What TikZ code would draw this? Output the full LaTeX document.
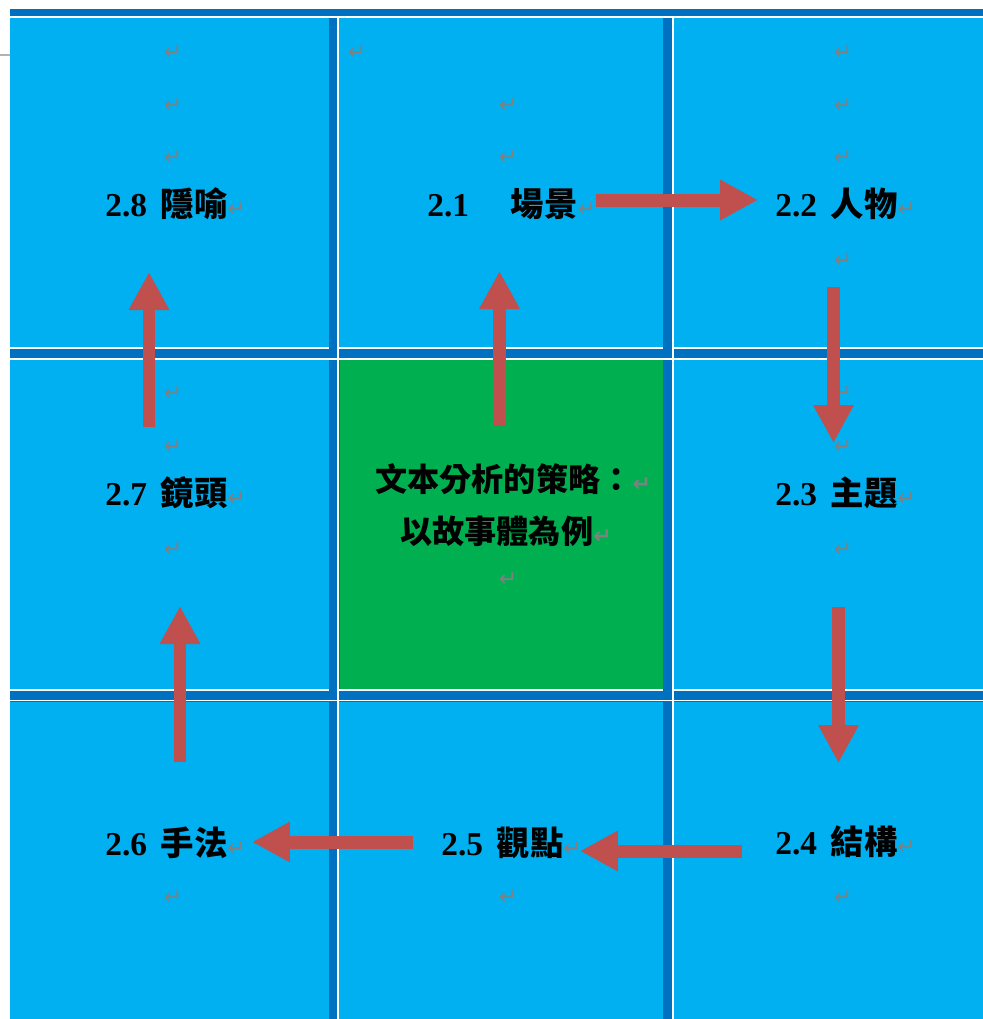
\documentclass[tikz,border=0pt]{standalone}
\usepackage{fontspec}
\setmainfont{Liberation Serif}
\newfontfamily\cjk{Noto Sans CJK TC}
\newfontfamily\dejavu{DejaVu Sans}
\usepackage{tikz}
\usetikzlibrary{arrows.meta}
\definecolor{bandblue}{HTML}{0070C0}
\definecolor{cellblue}{HTML}{00B0F0}
\definecolor{centregreen}{HTML}{00B050}
\definecolor{arrowred}{HTML}{C0504D}
\definecolor{retgray}{HTML}{808080}
\newcommand{\ret}{{\dejavu\fontsize{12.5}{12.5}\selectfont\textcolor{retgray}{↵}}}
\newcommand{\topictext}[2]{\textbf{#1} \hspace{3pt}{\cjk\bfseries #2}\ret}
\tikzset{
    rule/.style={draw=white, line width=0.9pt},
    topic/.style={anchor=base west, inner sep=0pt, font=\fontsize{19}{23}\selectfont},
    centretext/.style={anchor=base west, inner sep=0pt, font=\cjk\bfseries\fontsize{18.3}{22}\selectfont},
    retsign/.style={inner sep=0pt},
    flow/.style={draw=arrowred, line width=0.26cm, -{Triangle[length=0.76cm,width=0.76cm]}}}

\begin{document}
\begin{tikzpicture}[x=0.02cm,y=-0.02cm]
\useasboundingbox (0,0) rectangle (983,1019);
% table
\fill[bandblue] (10,9) rectangle (983,1019);
\fill[cellblue] (10,18) rectangle (329,348);
\fill[cellblue] (339,18) rectangle (663,348);
\fill[cellblue] (674,18) rectangle (983,348);
\fill[cellblue] (10,360) rectangle (329,690);
\fill[centregreen] (340,360) rectangle (663,690);
\fill[cellblue] (674,360) rectangle (983,690);
\fill[cellblue] (10,702) rectangle (329,1019);
\fill[cellblue] (339,702) rectangle (663,1019);
\fill[cellblue] (674,702) rectangle (983,1019);
\draw[rule] (10,17) -- (983,17);
\draw[rule] (10,348) -- (329,348) (338,348) -- (663,348) (673,348) -- (983,348);
\draw[rule] (10,359) -- (983,359);
\draw[rule] (10,690) -- (329,690) (338,690) -- (663,690) (673,690) -- (983,690);
\draw[rule] (10,700.5) -- (983,700.5);
\draw[rule] (338,17) -- (338,1019);
\draw[rule] (673,17) -- (673,1019);
\draw[gray!60, line width=0.6pt] (0,55) -- (10,55);
% topics
\node[topic] (t8) at (105,216) {\topictext{2.8}{隱喻}};
\node[topic] (t1) at (427,216) {\textbf{2.1} {\cjk\bfseries 　場景}\ret};
\node[topic] (t2) at (775,216) {\topictext{2.2}{人物}};
\node[topic] (t7) at (105,505) {\topictext{2.7}{鏡頭}};
\node[topic] (t3) at (775,505) {\topictext{2.3}{主題}};
\node[topic] (t6) at (105,855) {\topictext{2.6}{手法}};
\node[topic] (t5) at (441,855) {\topictext{2.5}{觀點}};
\node[topic] (t4) at (775,854) {\topictext{2.4}{結構}};
\node[centretext] (c1) at (375,491) {文本分析的策略：\ret};
\node[centretext] (c2) at (400,543) {以故事體為例\ret};
% paragraph marks
\node[retsign] (r1) at (173,53) {\ret};
\node[retsign] (r2) at (173,106) {\ret};
\node[retsign] (r3) at (173,158) {\ret};
\node[retsign] (r4) at (173,394) {\ret};
\node[retsign] (r5) at (173,447) {\ret};
\node[retsign] (r6) at (173,550) {\ret};
\node[retsign] (r7) at (173,898) {\ret};
\node[retsign] (r8) at (357,53) {\ret};
\node[retsign] (r9) at (508,106) {\ret};
\node[retsign] (r10) at (508,158) {\ret};
\node[retsign] (r11) at (508,580) {\ret};
\node[retsign] (r12) at (508,898) {\ret};
\node[retsign] (r13) at (843,53) {\ret};
\node[retsign] (r14) at (843,106) {\ret};
\node[retsign] (r15) at (843,158) {\ret};
\node[retsign] (r16) at (843,261) {\ret};
\node[retsign] (r17) at (843,393) {\ret};
\node[retsign] (r18) at (843,447) {\ret};
\node[retsign] (r19) at (843,550) {\ret};
\node[retsign] (r20) at (843,898) {\ret};
% arrows
\coordinate (a12) at (596,200);   \coordinate (b12) at (758,200);
\coordinate (a23) at (833.5,287); \coordinate (b23) at (833.5,443);
\coordinate (a34) at (838.5,607); \coordinate (b34) at (838.5,763);
\coordinate (a45) at (742,851);   \coordinate (b45) at (580,851);
\coordinate (a56) at (413,842);   \coordinate (b56) at (252,842);
\coordinate (a67) at (180,762);   \coordinate (b67) at (180,606);
\coordinate (a78) at (149,427);   \coordinate (b78) at (149,272);
\coordinate (a01) at (499.5,425); \coordinate (b01) at (499.5,271);
\draw[flow] (a12) -- (b12);
\draw[flow] (a23) -- (b23);
\draw[flow] (a34) -- (b34);
\draw[flow] (a45) -- (b45);
\draw[flow] (a56) -- (b56);
\draw[flow] (a67) -- (b67);
\draw[flow] (a78) -- (b78);
\draw[flow] (a01) -- (b01);
\end{tikzpicture}
\end{document}
